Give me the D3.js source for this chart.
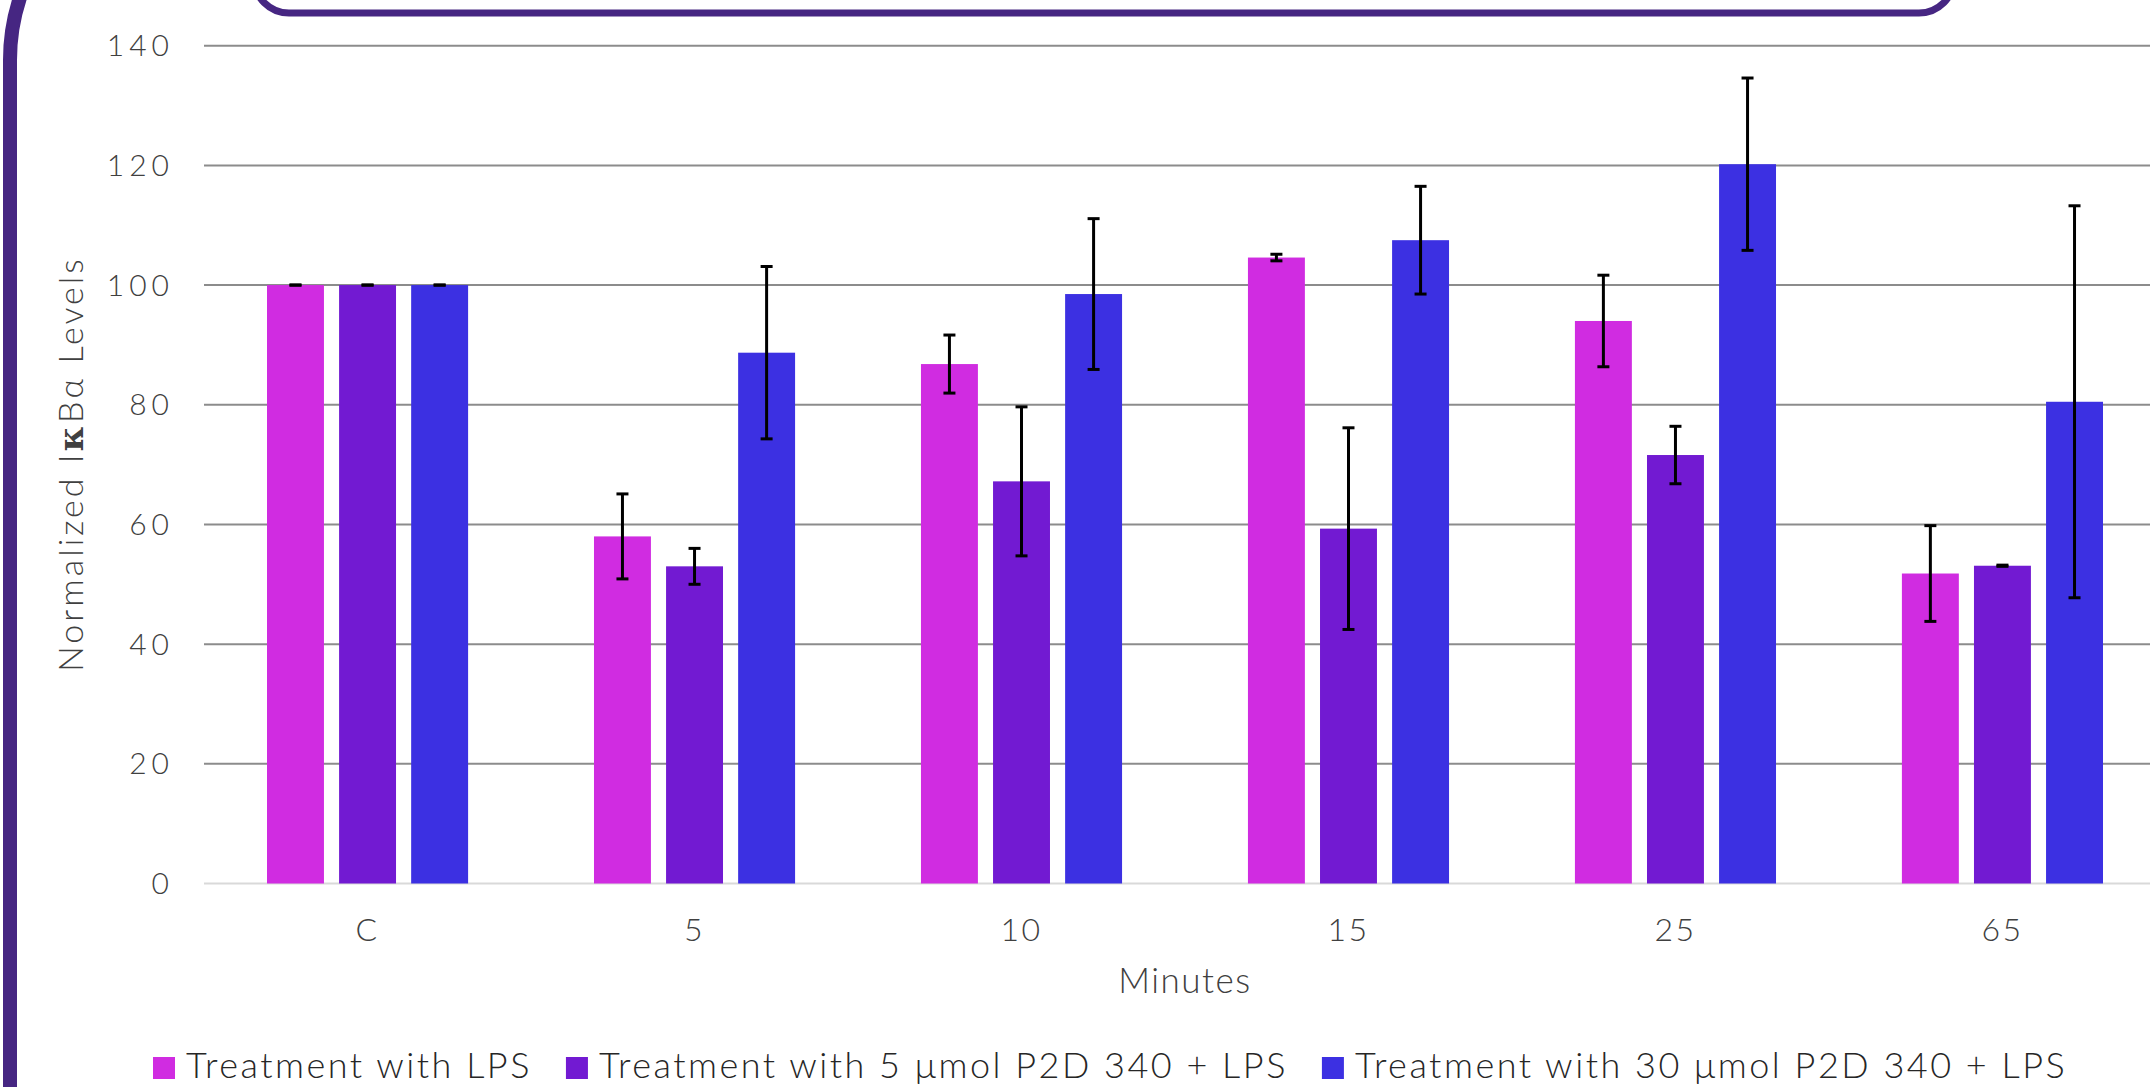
<!DOCTYPE html>
<html>
<head>
<meta charset="utf-8">
<script src="https://cdn.jsdelivr.net/npm/d3@7"></script>
<style>
  html, body { margin: 0; padding: 0; background: #fff; overflow: hidden; }
  text { font-family: "Lato", "Open Sans", sans-serif; font-weight: 300; }
</style>
</head>
<body>
<script>
const width = 2150;
const height = 1087;

// data
const minutes = ["C", "5", "10", "15", "25", "65"];
const seriesNames = [
    "Treatment with LPS",
    "Treatment with 5 μmol P2D 340 + LPS",
    "Treatment with 30 μmol P2D 340 + LPS"
];
const lpsValues = [100, 58.0, 86.8, 104.6, 94.0, 51.8];
const lpsErrors = [0, 7.1, 4.85, 0.55, 7.65, 8.0];
const p5Values = [100, 53.0, 67.2, 59.3, 71.6, 53.1];
const p5Errors = [0, 3.0, 12.45, 16.85, 4.8, 0.1];
const p30Values = [100, 88.7, 98.5, 107.5, 120.2, 80.5];
const p30Errors = [0, 14.4, 12.6, 9.0, 14.4, 32.75];
const yTicks = [0, 20, 40, 60, 80, 100, 120, 140];

const colors = ["#d02ce1", "#721ad2", "#3c30e2"];
const frameColor = "#462682";

const series = [
    { name: seriesNames[0], values: lpsValues, errors: lpsErrors },
    { name: seriesNames[1], values: p5Values, errors: p5Errors },
    { name: seriesNames[2], values: p30Values, errors: p30Errors }
];

const svg = d3.select("body")
    .append("svg")
    .attr("width", width)
    .attr("height", height);

// decorative frame (left edge and top title box)
svg.append("rect")
    .attr("x", 10)
    .attr("y", -140)
    .attr("width", 3000)
    .attr("height", 2000)
    .attr("rx", 200)
    .attr("fill", "none")
    .attr("stroke", frameColor)
    .attr("stroke-width", 14);

svg.append("rect")
    .attr("x", 254)
    .attr("y", -100)
    .attr("width", 1700)
    .attr("height", 113)
    .attr("rx", 35)
    .attr("fill", "none")
    .attr("stroke", frameColor)
    .attr("stroke-width", 7);

// scales
const x0 = d3.scaleBand()
    .domain(minutes)
    .range([204, 2166])
    .paddingInner(0.385)
    .paddingOuter(0.1927);

const x1 = d3.scaleBand()
    .domain(d3.range(series.length))
    .range([0, x0.bandwidth()])
    .paddingInner(0.21);

const y = d3.scaleLinear()
    .domain([0, 140])
    .range([883.5, 45.7]);

// gridlines
svg.append("g")
    .selectAll("line")
    .data(yTicks)
    .join("line")
    .attr("x1", 204)
    .attr("x2", width)
    .attr("y1", d => y(d))
    .attr("y2", d => y(d))
    .attr("stroke", d => d === 0 ? "#d9d9d9" : "#8c8c8c")
    .attr("stroke-width", 2);

// y tick labels
svg.append("g")
    .selectAll("text")
    .data(yTicks)
    .join("text")
    .attr("x", 174)
    .attr("y", d => y(d))
    .attr("dy", "0.35em")
    .attr("text-anchor", "end")
    .attr("font-size", 30)
    .attr("letter-spacing", 5)
    .attr("fill", "#404040")
    .text(d => d);

// bars
const groups = svg.append("g")
    .selectAll("g")
    .data(minutes)
    .join("g")
    .attr("transform", d => `translate(${x0(d)},0)`);

groups.selectAll("rect")
    .data((d, i) => series.map((s, k) => ({ k, v: s.values[i], e: s.errors[i] })))
    .join("rect")
    .attr("x", d => x1(d.k))
    .attr("y", d => y(d.v))
    .attr("width", x1.bandwidth())
    .attr("height", d => y(0) - y(d.v))
    .attr("fill", d => colors[d.k]);

// error bars
const err = groups.selectAll("g.err")
    .data((d, i) => series.map((s, k) => ({ k, v: s.values[i], e: s.errors[i] })))
    .join("g")
    .attr("class", "err")
    .attr("transform", d => `translate(${x1(d.k) + x1.bandwidth() / 2},0)`);

err.append("line")
    .attr("y1", d => y(d.v + d.e))
    .attr("y2", d => y(d.v - d.e))
    .attr("stroke", "#000")
    .attr("stroke-width", 3);

err.selectAll("line.cap")
    .data(d => [d.v + d.e, d.v - d.e])
    .join("line")
    .attr("class", "cap")
    .attr("x1", -6)
    .attr("x2", 6)
    .attr("y1", d => y(d))
    .attr("y2", d => y(d))
    .attr("stroke", "#000")
    .attr("stroke-width", 3);

// x labels
svg.append("g")
    .selectAll("text")
    .data(minutes)
    .join("text")
    .attr("x", d => x0(d) + x0.bandwidth() / 2)
    .attr("y", 941)
    .attr("text-anchor", "middle")
    .attr("font-size", 32)
    .attr("letter-spacing", 2.5)
    .attr("fill", "#404040")
    .text(d => d);

svg.append("text")
    .attr("x", 1185)
    .attr("y", 993)
    .attr("text-anchor", "middle")
    .attr("font-size", 35)
    .attr("letter-spacing", 1.5)
    .attr("fill", "#404040")
    .text("Minutes");

// y axis title
const yTitle = svg.append("text")
    .attr("transform", "translate(83,464) rotate(-90)")
    .attr("text-anchor", "middle")
    .attr("font-size", 34)
    .attr("letter-spacing", 3)
    .attr("fill", "#404040");
yTitle.append("tspan").text("Normalized I");
yTitle.append("tspan")
    .attr("font-family", "DejaVu Serif, serif")
    .style("font-weight", 700)
    .text("κ");
yTitle.append("tspan").text("Bα Levels");

// legend
const legend = svg.append("g");
let lx = 153;
series.forEach((s, i) => {
    legend.append("rect")
        .attr("x", lx)
        .attr("y", 1057)
        .attr("width", 22)
        .attr("height", 22)
        .attr("fill", colors[i]);
    const t = legend.append("text")
        .attr("x", lx + 33)
        .attr("y", 1078)
        .attr("font-size", 36)
        .attr("letter-spacing", 2.5)
        .attr("fill", "#262626")
        .text(s.name);
    lx += 33 + t.node().getComputedTextLength() + 34;
});
</script>
</body>
</html>
